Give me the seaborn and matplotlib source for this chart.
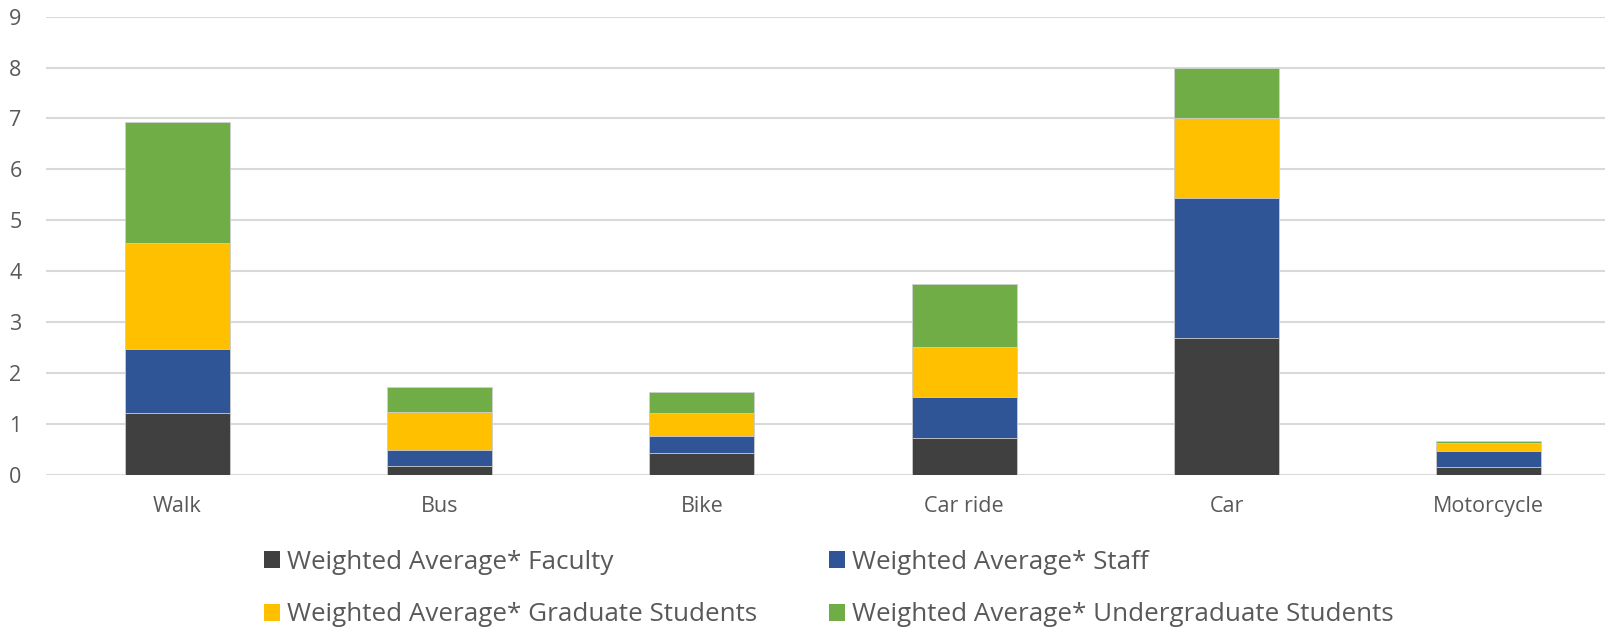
import matplotlib
matplotlib.use("Agg")
import matplotlib.pyplot as plt
import seaborn as sns
import pandas as pd
import numpy as np
from matplotlib.patches import Patch

categories = ["Walk", "Bus", "Bike", "Car ride", "Car", "Motorcycle"]
faculty = [1.21, 0.18, 0.42, 0.73, 2.68, 0.15]
staff = [1.26, 0.31, 0.35, 0.80, 2.76, 0.32]
grad = [2.08, 0.74, 0.44, 0.98, 1.56, 0.16]
undergrad = [2.38, 0.49, 0.42, 1.24, 0.99, 0.03]
series_names = ["Weighted Average* Faculty", "Weighted Average* Staff",
                "Weighted Average* Graduate Students", "Weighted Average* Undergraduate Students"]
colors = ["#404040", "#2F5597", "#FFC000", "#70AD47"]
yticks = list(range(0, 10))

sns.set_theme(style="white")
plt.rcParams['font.family'] = ['Open Sans', 'DejaVu Sans']

fig = plt.figure(figsize=(16.06, 6.27), dpi=100)
ax = fig.add_axes([46/1606, 152.3/627, 1 - 46/1606, (474.7-16.7)/627])

series = [faculty, staff, grad, undergrad]
cum = np.cumsum(np.array(series), axis=0)
df = pd.DataFrame({"cat": categories})
# draw from tallest cumulative down so each layer shows
for i in range(len(series) - 1, -1, -1):
    df["val"] = cum[i]
    sns.barplot(data=df, x="cat", y="val", order=categories, color=colors[i],
                saturation=1, width=0.40, ax=ax, edgecolor="#d0d0d0", linewidth=0.6,
                zorder=3)

ax.set_ylim(0, 9)
ax.set_xlim(-0.5, 5.5 - 14/262.3)
ax.set_yticks(yticks)
ax.set_yticklabels([str(t) for t in yticks])
ax.yaxis.grid(True, color="#d9d9d9", linewidth=1.5, zorder=0)
ax.set_axisbelow(True)
for s in ax.spines.values():
    s.set_visible(False)
ax.set_xlabel("")
ax.set_ylabel("")
ax.tick_params(axis="both", length=0, labelsize=15.5, labelcolor="#595959")
ax.tick_params(axis="x", pad=15)
ax.tick_params(axis="y", pad=22)
for lab in ax.get_yticklabels():
    lab.set_horizontalalignment("center")

handles = [Patch(facecolor=c, edgecolor="none") for c in colors]
order = [0, 2, 1, 3]
leg = fig.legend([handles[k] for k in order], [series_names[k] for k in order],
                 ncol=2, frameon=False, loc="upper left",
                 bbox_to_anchor=(264/1606, 1 - 550/627), borderpad=0, borderaxespad=0,
                 handlelength=0.62, handleheight=0.62, handletextpad=0.28,
                 columnspacing=2.75, labelspacing=1.05, fontsize=18.7)
for t in leg.get_texts():
    t.set_color("#595959")

fig.savefig("out.png", dpi=100)
